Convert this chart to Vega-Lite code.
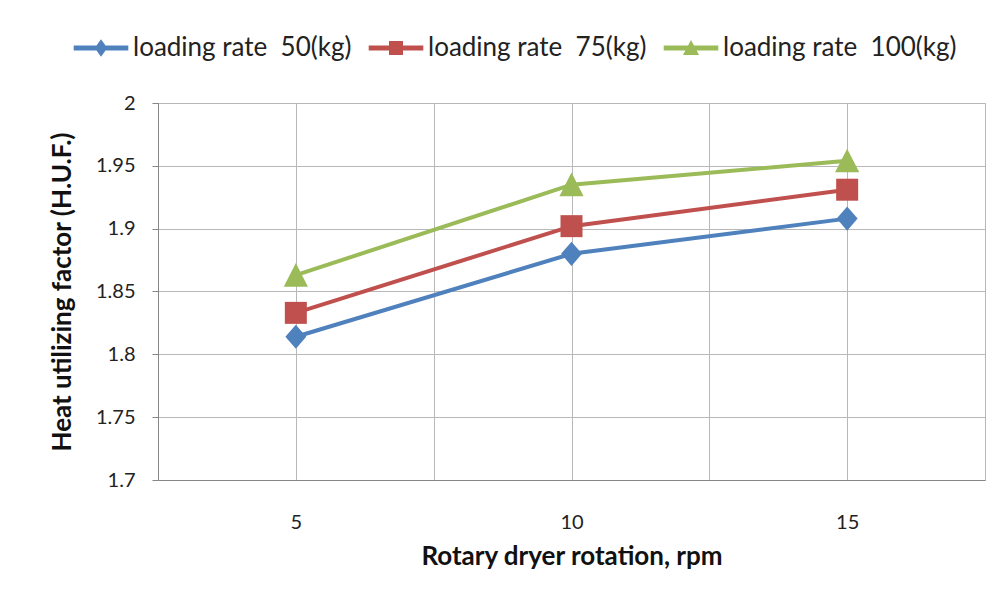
{
  "$schema": "https://vega.github.io/schema/vega-lite/v6.json",
  "width": 827,
  "height": 377,
  "autosize": {"type": "none"},
  "padding": {"left": 158, "top": 103, "right": 20, "bottom": 128},
  "background": "white",
  "config": {
    "font": "Lato",
    "view": {"stroke": "#b8b8b8"},
    "axis": {
      "gridColor": "#b8b8b8",
      "gridWidth": 1,
      "domainColor": "#868686",
      "tickColor": "#868686",
      "labelColor": "#222222",
      "labelFontSize": 20,
      "labelFont": "Lato",
      "titleColor": "#111111",
      "titleFont": "Lato",
      "titleFontSize": 26,
      "titleFontWeight": "bold"
    },
    "legend": {
      "labelFont": "Lato",
      "labelFontSize": 26,
      "labelColor": "#222222",
      "labelLimit": 0,
      "padding": 0,
      "symbolStrokeWidth": 0,
      "symbolOpacity": 1
    }
  },
  "data": {
    "values": [
      {"rpm": 5, "huf": 1.814, "series": "loading rate\u00a0\u00a050(kg)"},
      {"rpm": 10, "huf": 1.880, "series": "loading rate\u00a0\u00a050(kg)"},
      {"rpm": 15, "huf": 1.908, "series": "loading rate\u00a0\u00a050(kg)"},
      {"rpm": 5, "huf": 1.833, "series": "loading rate\u00a0\u00a075(kg)"},
      {"rpm": 10, "huf": 1.902, "series": "loading rate\u00a0\u00a075(kg)"},
      {"rpm": 15, "huf": 1.931, "series": "loading rate\u00a0\u00a075(kg)"},
      {"rpm": 5, "huf": 1.863, "series": "loading rate\u00a0\u00a0100(kg)"},
      {"rpm": 10, "huf": 1.935, "series": "loading rate\u00a0\u00a0100(kg)"},
      {"rpm": 15, "huf": 1.954, "series": "loading rate\u00a0\u00a0100(kg)"}
    ]
  },
  "encoding": {
    "x": {
      "field": "rpm",
      "type": "quantitative",
      "scale": {"domain": [2.5, 17.5], "nice": false, "zero": false},
      "axis": {
        "title": "Rotary dryer rotation, rpm",
        "values": [2.5, 5, 7.5, 10, 12.5, 15, 17.5],
        "labelExpr": "datum.value % 5 == 0 ? toString(datum.value) : ''",
        "ticks": false,
        "labelPadding": 32,
        "titlePadding": 11
      }
    },
    "y": {
      "field": "huf",
      "type": "quantitative",
      "scale": {"domain": [1.7, 2.0], "nice": false, "zero": false},
      "axis": {
        "title": "Heat utilizing factor (H.U.F.)",
        "values": [1.7, 1.75, 1.8, 1.85, 1.9, 1.95, 2.0],
        "format": "~g",
        "tickSize": 6,
        "labelPadding": 17,
        "titlePadding": 20
      }
    }
  },
  "layer": [
    {
      "mark": {"type": "line", "strokeWidth": 4},
      "encoding": {
        "color": {
          "field": "series",
          "type": "nominal",
          "scale": {
            "domain": ["loading rate\u00a0\u00a050(kg)", "loading rate\u00a0\u00a075(kg)", "loading rate\u00a0\u00a0100(kg)"],
            "range": ["#4F81BD", "#C0504D", "#9BBB59"]
          },
          "legend": null
        }
      }
    },
    {
      "mark": {"type": "point", "filled": true, "opacity": 1, "size": 484},
      "encoding": {
        "color": {
          "field": "series",
          "type": "nominal",
          "scale": {
            "domain": ["loading rate\u00a0\u00a050(kg)", "loading rate\u00a0\u00a075(kg)", "loading rate\u00a0\u00a0100(kg)"],
            "range": ["#4F81BD", "#C0504D", "#9BBB59"]
          },
          "legend": null
        },
        "shape": {
          "field": "series",
          "type": "nominal",
          "scale": {
            "domain": ["loading rate\u00a0\u00a050(kg)", "loading rate\u00a0\u00a075(kg)", "loading rate\u00a0\u00a0100(kg)"],
            "range": [
              "M-0.95,0L0,-1.1L0.95,0L0,1.1Z",
              "M-1,-1H1V1H-1Z",
              "M0,-1.1L1.1,1.05H-1.1Z"
            ]
          },
          "legend": null
        }
      }
    },
    {
      "transform": [{"filter": "false"}],
      "mark": {"type": "point", "filled": true, "opacity": 1},
      "encoding": {
        "color": {
          "field": "series",
          "type": "nominal",
          "scale": {
            "domain": ["loading rate\u00a0\u00a050(kg)", "loading rate\u00a0\u00a075(kg)", "loading rate\u00a0\u00a0100(kg)"],
            "range": ["#4F81BD", "#C0504D", "#9BBB59"]
          },
          "legend": {
            "title": null,
            "orient": "none",
            "direction": "horizontal",
            "columns": 3,
            "legendX": -70,
            "legendY": -68,
            "symbolSize": 196,
            "labelOffset": 19,
            "columnPadding": 16
          }
        },
        "shape": {
          "field": "series",
          "type": "nominal",
          "scale": {
            "domain": ["loading rate\u00a0\u00a050(kg)", "loading rate\u00a0\u00a075(kg)", "loading rate\u00a0\u00a0100(kg)"],
            "range": [
              "M-3.9,-0.34H3.9V0.34H-3.9Z M-0.9,0L0,-1.25L0.9,0L0,1.25Z",
              "M-3.9,-0.34H3.9V0.34H-3.9Z M-1,-1H1V1H-1Z",
              "M-3.9,-0.34H3.9V0.34H-3.9Z M0,-1.15L1.15,1H-1.15Z"
            ]
          },
          "legend": {
            "title": null,
            "orient": "none",
            "direction": "horizontal",
            "columns": 3,
            "legendX": -70,
            "legendY": -68,
            "symbolSize": 196,
            "labelOffset": 19,
            "columnPadding": 16
          }
        }
      }
    }
  ],
  "resolve": {"scale": {"color": "independent", "shape": "independent"}}
}
